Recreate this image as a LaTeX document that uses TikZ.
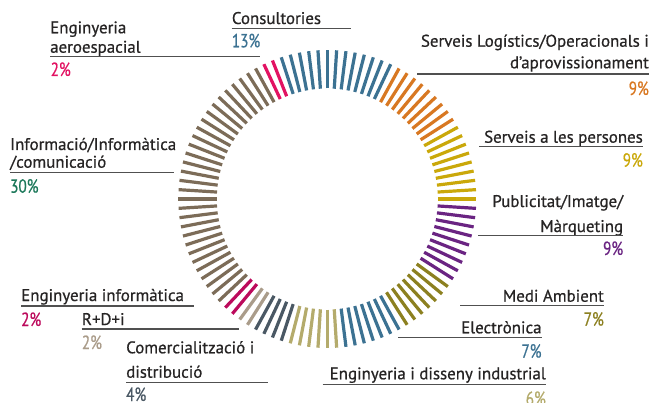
\documentclass[tikz,border=0pt]{standalone}
\usepackage{fontspec}
\setmainfont{PT Sans}[FakeBold=0.7]
\newfontfamily\lblfont[FakeBold=0.7]{PT Sans}
\newfontfamily\pctfont[FakeStretch=0.8,FakeBold=0.7]{PT Sans}
\definecolor{cCons}{RGB}{60,114,146}
\definecolor{cLog}{RGB}{216,120,34}
\definecolor{cPers}{RGB}{202,168,10}
\definecolor{cPub}{RGB}{106,36,130}
\definecolor{cMedi}{RGB}{140,128,32}
\definecolor{cElec}{RGB}{60,114,146}
\definecolor{cEng}{RGB}{180,171,108}
\definecolor{cCom}{RGB}{74,88,100}
\definecolor{cRdi}{RGB}{170,156,138}
\definecolor{cEinf}{RGB}{188,10,92}
\definecolor{cInfo}{RGB}{124,108,88}
\definecolor{cInfoTxt}{RGB}{28,120,90}
\definecolor{cAero}{RGB}{226,18,98}
\definecolor{txt}{RGB}{38,36,36}
\definecolor{rule}{RGB}{80,80,80}
\begin{document}
\begin{tikzpicture}[x=1pt,y=-1pt,
  bar/.style={line width=3.2pt,line cap=butt},
  lbl/.style={inner sep=0pt,text=txt,font=\lblfont\fontsize{16.9}{18}\selectfont},
  lw/.style={lbl,anchor=base west},
  le/.style={lbl,anchor=base east},
  pct/.style={inner sep=0pt,font=\pctfont\fontsize{19}{20}\selectfont},
  pw/.style={pct,anchor=base west},
  pe/.style={pct,anchor=base east},
  uline/.style={draw=rule,line width=1.1pt}]
\useasboundingbox (0,0) rectangle (652,403);
\def\cx{327.3}\def\cy{199}\def\ri{110.5}\def\ro{149}
\foreach \s/\e/\c in {0/12/cCons,13/21/cLog,22/30/cPers,31/39/cPub,40/46/cMedi,
  47/53/cElec,54/59/cEng,60/63/cCom,64/65/cRdi,66/67/cEinf,68/97/cInfo,98/99/cAero}{
  \foreach \j in {\s,...,\e}{
    \pgfmathsetmacro{\a}{108-3.6*\j}
    \draw[bar,draw=\c] ({\cx+\ri*cos(\a)},{\cy-\ri*sin(\a)}) -- ({\cx+\ro*cos(\a)},{\cy-\ro*sin(\a)});
  }
}
% Enginyeria aeroespacial
\node[lw] (aero1) at (50,33.3) {Enginyeria};
\node[lw] (aero2) at (50,52.7) {aeroespacial};
\coordinate (aeroA) at (50,56.3); \coordinate (aeroB) at (260,56.3);
\draw[uline] (aeroA) -- (aeroB);
\node[pw,text=cAero] (aeroP) at (50.5,76) {2\%};
% Consultories
\node[lw] (cons) at (231.7,24) {Consultories};
\coordinate (consA) at (231.7,28.3); \coordinate (consB) at (351,28.3);
\draw[uline] (consA) -- (consB);
\node[pw,text=cCons] (consP) at (231.7,47.3) {13\%};
% Informacio
\node[lw] (info1) at (10,150) {Informació/Informàtica};
\node[lw] (info2) at (10,167.7) {/comunicació};
\coordinate (infoA) at (10,172.3); \coordinate (infoB) at (174.3,172.3);
\draw[uline] (infoA) -- (infoB);
\node[pw,text=cInfoTxt] (infoP) at (10,192.7) {30\%};
% Enginyeria informatica
\node[lw] (einf) at (21,301) {Enginyeria informàtica};
\coordinate (einfA) at (21,306); \coordinate (einfB) at (194.3,306);
\draw[uline] (einfA) -- (einfB);
\node[pw,text=cEinf] (einfP) at (21,326) {2\%};
% R+D+i
\node[lw] (rdi) at (81.7,325) {R+D+i};
\coordinate (rdiA) at (81.7,329); \coordinate (rdiB) at (239.3,329);
\draw[uline] (rdiA) -- (rdiB);
\node[pw,text=cRdi] (rdiP) at (81.7,349) {2\%};
% Comercialitzacio
\node[lw] (com1) at (126,353.3) {Comercialització i};
\node[lw] (com2) at (126,377.7) {distribució};
\coordinate (comA) at (126,382.3); \coordinate (comB) at (268.3,382.3);
\draw[uline] (comA) -- (comB);
\node[pw,text=cCom] (comP) at (126,401) {4\%};
% Serveis logistics
\node[le] (log1) at (649,46.7) {Serveis Logístics/Operacionals i};
\node[le] (log2) at (649,68.3) {d’aprovissionament};
\coordinate (logA) at (417,74); \coordinate (logB) at (649,74);
\draw[uline] (logA) -- (logB);
\node[pe,text=cLog] (logP) at (649,95) {9\%};
% Serveis a les persones
\node[le] (pers) at (643,142.7) {Serveis a les persones};
\coordinate (persA) at (479,146.7); \coordinate (persB) at (643,146.7);
\draw[uline] (persA) -- (persB);
\node[pe,text=cPers] (persP) at (643,166.7) {9\%};
% Publicitat
\node[le] (pub1) at (623.3,207) {Publicitat/Imatge/};
\node[le] (pub2) at (623.3,232) {Màrqueting};
\coordinate (pubA) at (478,235.5); \coordinate (pubB) at (623.3,235.5);
\draw[uline] (pubA) -- (pubB);
\node[pe,text=cPub] (pubP) at (623.3,255) {9\%};
% Medi Ambient
\node[le] (medi) at (604,301.7) {Medi Ambient};
\coordinate (mediA) at (460,305.7); \coordinate (mediB) at (604,305.7);
\draw[uline] (mediA) -- (mediB);
\node[pe,text=cMedi] (mediP) at (604,325.7) {7\%};
% Electronica
\node[le] (elec) at (541.7,333.3) {Electrònica};
\coordinate (elecA) at (398,337.7); \coordinate (elecB) at (541.7,337.7);
\draw[uline] (elecA) -- (elecB);
\node[pe,text=cElec] (elecP) at (541.7,357.7) {7\%};
% Enginyeria i disseny industrial
\node[le] (eng) at (546,379.3) {Enginyeria i disseny industrial};
\coordinate (engA) at (322.7,384.3); \coordinate (engB) at (546,384.3);
\draw[uline] (engA) -- (engB);
\node[pe,text=cEng] (engP) at (546,405) {6\%};
\end{tikzpicture}
\end{document}
